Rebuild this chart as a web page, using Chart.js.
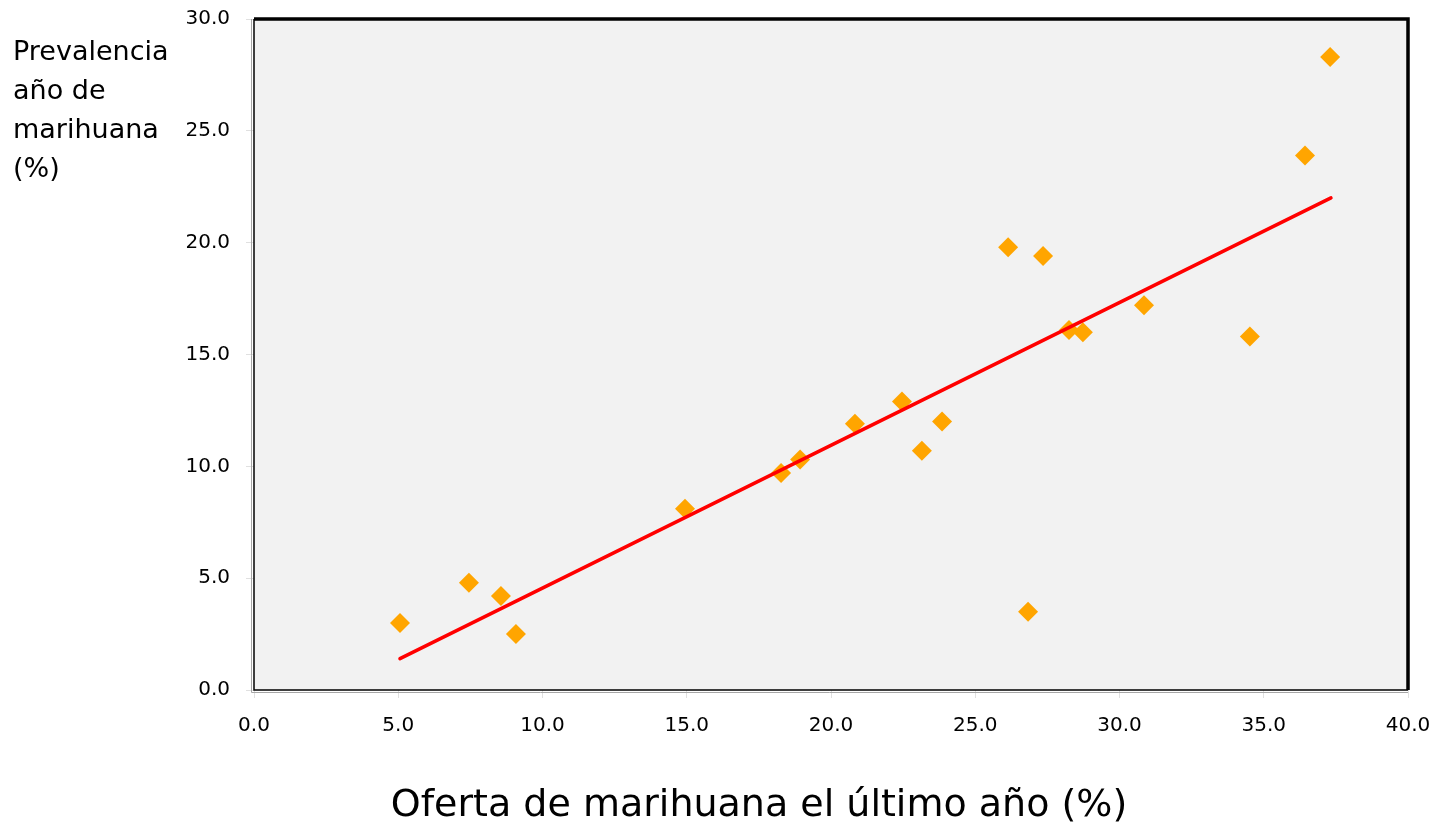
<!DOCTYPE html>
<html>
<head>
<meta charset="utf-8">
<script src="https://cdn.jsdelivr.net/npm/chart.js@4/dist/chart.umd.min.js"></script>
<style>
  html, body { margin: 0; padding: 0; background: #fff; }
  #wrap { width: 1435px; height: 832px; position: relative; }
</style>
</head>
<body>
<div id="wrap"><canvas id="grafica"></canvas></div>
<script>
// datos
const oferta = [5.06, 7.45, 8.56, 9.08, 14.94, 18.27, 18.93, 20.83, 22.46, 23.15, 23.85, 26.14, 26.83, 27.35, 28.25, 28.73, 30.85, 34.52, 36.43, 37.3];
const prevalencia = [3.0, 4.8, 4.2, 2.5, 8.1, 9.7, 10.3, 11.9, 12.9, 10.7, 12.0, 19.8, 3.5, 19.4, 16.1, 16.0, 17.2, 15.8, 23.9, 28.3];
const tendenciaX = [5.06, 37.33];
const tendenciaY = [1.4, 22.0];
const tituloX = "Oferta de marihuana el último año (%)";
const tituloY = ["Prevalencia", "año de", "marihuana", "(%)"];

const fuente = "'DejaVu Sans', Verdana, sans-serif";

const puntos = oferta.map((x, i) => ({ x: x, y: prevalencia[i] }));
const linea = tendenciaX.map((x, i) => ({ x: x, y: tendenciaY[i] }));

// fondo gris, marco del area y titulos
const marco = {
    id: "marco",
    beforeDraw(chart) {
        const { ctx, chartArea: a } = chart;
        ctx.save();
        ctx.fillStyle = "#f2f2f2";
        ctx.fillRect(a.left, a.top, a.right - a.left, a.bottom - a.top);
        ctx.restore();
    },
    beforeDatasetsDraw(chart) {
        const { ctx, chartArea: a } = chart;
        ctx.save();
        // lineas grises exteriores
        ctx.strokeStyle = "#a6a6a6";
        ctx.lineWidth = 1;
        ctx.beginPath();
        ctx.moveTo(a.left - 2.5, a.top);
        ctx.lineTo(a.left - 2.5, a.bottom + 2.5);
        ctx.lineTo(a.right, a.bottom + 2.5);
        ctx.stroke();
        // negro
        ctx.strokeStyle = "#000";
        ctx.lineWidth = 1.5;
        ctx.beginPath();
        ctx.moveTo(a.left, a.top);
        ctx.lineTo(a.left, a.bottom);
        ctx.lineTo(a.right, a.bottom);
        ctx.stroke();
        ctx.lineWidth = 3.5;
        ctx.beginPath();
        ctx.moveTo(a.left, a.top);
        ctx.lineTo(a.right, a.top);
        ctx.lineTo(a.right, a.bottom);
        ctx.stroke();
        ctx.restore();
    },
    afterDraw(chart) {
        const { ctx } = chart;
        ctx.save();
        ctx.fillStyle = "#000";
        ctx.font = "27px " + fuente;
        ctx.textBaseline = "middle";
        ctx.textAlign = "left";
        tituloY.forEach((t, i) => ctx.fillText(t, 13, 53 + i * 39));
        ctx.font = "38px " + fuente;
        ctx.textAlign = "center";
        ctx.fillText(tituloX, 759, 806);
        ctx.restore();
    }
};

const ctx = document.getElementById("grafica").getContext("2d");
new Chart(ctx, {
    type: "scatter",
    data: {
        datasets: [
            {
                label: "Paises",
                data: puntos,
                pointStyle: "rectRot",
                pointRadius: 10,
                pointHoverRadius: 10,
                backgroundColor: "#ffa500",
                borderColor: "#ffa500",
                borderWidth: 0,
                order: 2
            },
            {
                label: "Tendencia",
                type: "line",
                data: linea,
                borderColor: "#ff0000",
                borderWidth: 3.5,
                borderCapStyle: "round",
                pointRadius: 0,
                fill: false,
                order: 1
            }
        ]
    },
    options: {
        responsive: true,
        maintainAspectRatio: false,
        animation: false,
        layout: { padding: { top: 19, right: 27, left: 0, bottom: 0 } },
        plugins: {
            legend: { display: false },
            tooltip: { enabled: false }
        },
        scales: {
            x: {
                type: "linear",
                min: 0,
                max: 40,
                border: { display: false },
                grid: { drawOnChartArea: false, drawTicks: true, tickLength: 8, tickColor: "#e0e0e0" },
                ticks: {
                    stepSize: 5,
                    padding: 16,
                    color: "#000",
                    font: { family: fuente, size: 20 },
                    callback: v => v.toFixed(1)
                },
                afterFit(scale) {
                    scale.height = 142;
                    scale.paddingLeft = 0;
                    scale.paddingRight = 0;
                }
            },
            y: {
                type: "linear",
                min: 0,
                max: 30,
                border: { display: false },
                grid: { drawOnChartArea: false, drawTicks: true, tickLength: 8, tickColor: "#e0e0e0" },
                ticks: {
                    stepSize: 5,
                    padding: 16,
                    color: "#000",
                    font: { family: fuente, size: 20 },
                    callback: v => v.toFixed(1)
                },
                afterFit(scale) {
                    scale.width = 254;
                    scale.paddingTop = 0;
                    scale.paddingBottom = 0;
                }
            }
        }
    },
    plugins: [marco]
});
</script>
</body>
</html>
